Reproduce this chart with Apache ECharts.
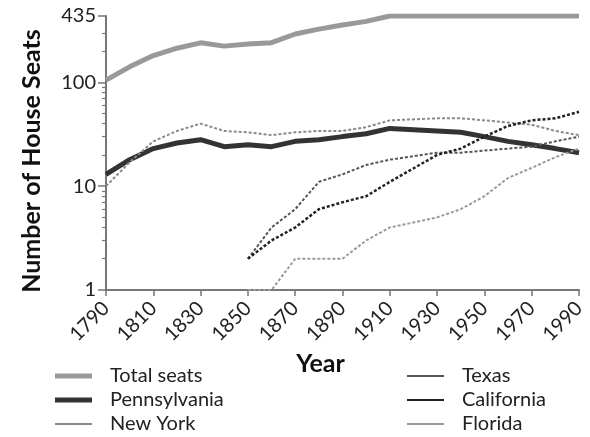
<!DOCTYPE html>
<html>
<head>
<meta charset="utf-8">
<script src="https://cdn.jsdelivr.net/npm/echarts@6/dist/echarts.min.js"></script>
<style>
  html, body { margin: 0; padding: 0; background: #fff; }
  #main { width: 590px; height: 437px; }
</style>
</head>
<body>
<div id="main"></div>
<script>
// census years (no reapportionment in 1920, so it is left out)
var years = [1790, 1800, 1810, 1820, 1830, 1840, 1850, 1860, 1870, 1880, 1890, 1900, 1910, 1930, 1940, 1950, 1960, 1970, 1980, 1990];

var totalSeats   = [105, 141, 181, 213, 240, 223, 234, 241, 292, 325, 356, 386, 435, 435, 435, 435, 435, 435, 435, 435];
var pennsylvania = [13, 18, 23, 26, 28, 24, 25, 24, 27, 28, 30, 32, 36, 34, 33, 30, 27, 25, 23, 21];
var newYork      = [10, 17, 27, 34, 40, 34, 33, 31, 33, 34, 34, 37, 43, 45, 45, 43, 41, 39, 34, 31];
var texas        = [null, null, null, null, null, null, 2, 4, 6, 11, 13, 16, 18, 21, 21, 22, 23, 24, 27, 30];
var california   = [null, null, null, null, null, null, 2, 3, 4, 6, 7, 8, 11, 20, 23, 30, 38, 43, 45, 52];
var florida      = [null, null, null, null, null, null, 1, 1, 2, 2, 2, 3, 4, 5, 6, 8, 12, 15, 19, 23];

var yMajorTicks = [1, 10, 100, 435];
var yMinorTicks = [2, 3, 4, 5, 6, 7, 8, 9, 20, 30, 40, 50, 60, 70, 80, 90, 200, 300];

var font = 'Lato, "Open Sans", sans-serif';
var thickIcon = 'path://M0,0H37V5H0Z';
var thinIcon = 'path://M0,0H37V2H0Z';

function pairs(vals) {
    var out = [];
    for (var i = 0; i < years.length; i++) {
        if (vals[i] != null) out.push([years[i], vals[i]]);
    }
    return out;
}

function line(name, vals, color, width, dashed) {
    return {
        name: name,
        type: 'line',
        data: pairs(vals),
        symbol: 'none',
        silent: true,
        lineStyle: { color: color, width: width, type: dashed ? [3, 2] : 'solid' },
        itemStyle: { color: color }
    };
}

function legendBlock(items, left) {
    return {
        data: items,
        orient: 'vertical', left: left, top: 366,
        padding: 0,
        itemWidth: 37, itemHeight: 14, itemGap: 4,
        textStyle: { fontFamily: font, fontSize: 20, lineHeight: 20, color: '#222', padding: [0, 0, 0, 13] }
    };
}

var myChart = echarts.init(document.getElementById('main'));

var option = {
    animation: false,
    grid: { left: 106, right: 11, top: 16, bottom: 147 },
    legend: [
        legendBlock([
            { name: 'Total seats', icon: thickIcon },
            { name: 'Pennsylvania', icon: thickIcon },
            { name: 'New York', icon: thinIcon }
        ], 55),
        legendBlock([
            { name: 'Texas', icon: thinIcon },
            { name: 'California', icon: thinIcon },
            { name: 'Florida', icon: thinIcon }
        ], 407)
    ],
    xAxis: {
        type: 'value',
        min: 1790, max: 1990, interval: 20,
        name: 'Year',
        nameLocation: 'middle',
        nameGap: 55,
        nameTextStyle: { fontFamily: font, fontSize: 25, fontWeight: 'bold', color: '#111', padding: [0, 44, 0, 0] },
        splitLine: { show: false },
        axisLine: { lineStyle: { color: '#777', width: 2 } },
        axisTick: { length: 6, lineStyle: { color: '#777', width: 1.5 } },
        axisLabel: {
            rotate: 45, fontFamily: font, fontSize: 20, color: '#222', margin: 15,
            formatter: function (v) { return String(v); }
        }
    },
    yAxis: [
        {
            type: 'log',
            min: 1, max: 435,
            name: 'Number of House Seats',
            nameLocation: 'middle',
            nameRotate: 90,
            nameGap: 62,
            nameTextStyle: { fontFamily: font, fontSize: 25, fontWeight: 'bold', color: '#111', padding: [0, 16, 0, 0] },
            splitLine: { show: false },
            axisLine: { lineStyle: { color: '#777', width: 2 } },
            axisTick: { length: 8, customValues: yMajorTicks, lineStyle: { color: '#777', width: 1.5 } },
            axisLabel: { customValues: yMajorTicks, fontFamily: font, fontSize: 20, color: '#222', margin: 10 }
        },
        {
            type: 'log',
            min: 1, max: 435,
            position: 'left',
            splitLine: { show: false },
            axisLine: { show: false },
            axisTick: { length: 4, customValues: yMinorTicks, lineStyle: { color: '#777', width: 1.2 } },
            axisLabel: { show: false }
        }
    ],
    series: [
        line('Total seats', totalSeats, '#999', 5, false),
        line('Pennsylvania', pennsylvania, '#333', 5, false),
        line('New York', newYork, '#8a8a8a', 2, true),
        line('Texas', texas, '#555', 2, true),
        line('California', california, '#222', 2.5, true),
        line('Florida', florida, '#999', 2, true)
    ]
};

myChart.setOption(option);
</script>
</body>
</html>
